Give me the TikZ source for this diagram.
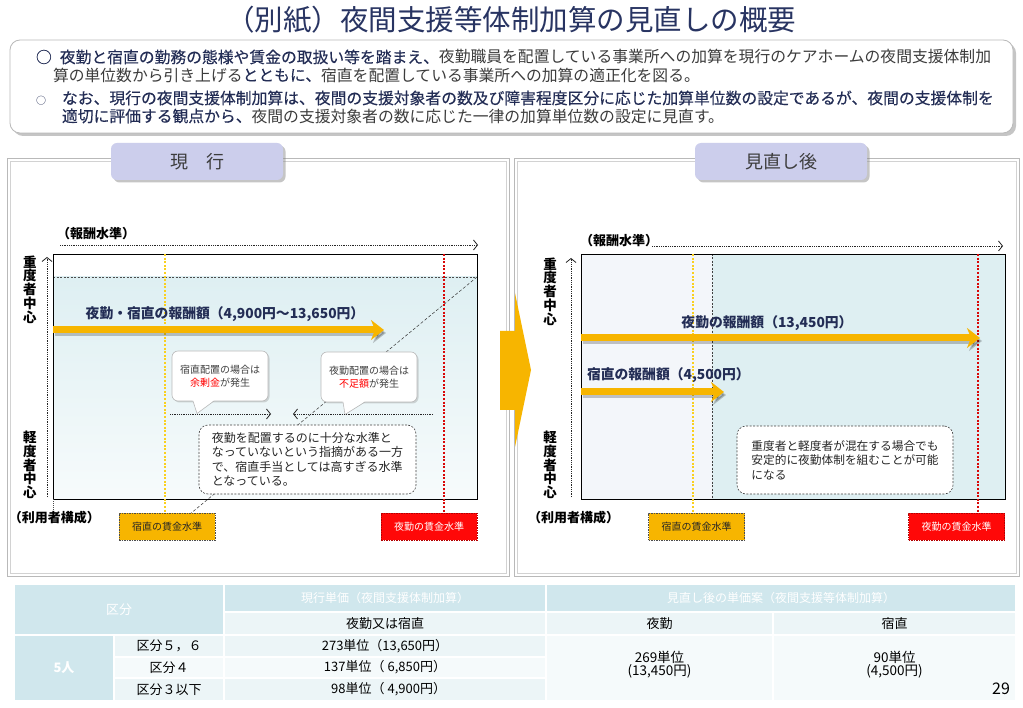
\documentclass[tikz,border=0pt]{standalone}
\usepackage{fontspec}
\setmainfont{Noto Sans CJK JP}
\newfontfamily\jpmed[FakeBold=0.25]{Noto Sans CJK JP}
\usetikzlibrary{arrows.meta,shadows}
\newcommand\jfs[2]{\fontsize{#1}{#2}\selectfont}
\definecolor{navy}{RGB}{35,45,85}
\definecolor{titlec}{RGB}{40,52,98}
\definecolor{txtgray}{RGB}{60,60,60}
\definecolor{gold}{RGB}{247,181,0}
\definecolor{dotyel}{RGB}{250,208,30}
\definecolor{tabfill}{RGB}{204,206,236}
\definecolor{lcyan}{RGB}{222,239,242}
\definecolor{lgray}{RGB}{243,246,250}
\definecolor{tblA}{RGB}{208,231,237}
\definecolor{tblB}{RGB}{236,245,247}
\definecolor{tblC}{RGB}{245,250,251}
\definecolor{wred}{RGB}{255,8,8}
\begin{document}
\begin{tikzpicture}[x=1pt,y=-1pt,
  every node/.style={inner sep=0pt,outer sep=0pt},
  bigarrow/.style={line width=7pt,gold,-{Stealth[length=13pt,width=20pt,inset=4pt]}},
  arrowshadow/.style={line width=7pt,black,opacity=.22,-{Stealth[length=13pt,width=20pt,inset=4pt]}},
  dotarrow/.style={black!85,line width=0.7pt,dash pattern=on 0.9pt off 0.9pt,-{Straight Barb[length=4pt,width=10pt,line width=0.8pt]}},
  yeldot/.style={dotyel,line width=2.6pt,dash pattern=on 2pt off 1.6pt},
  reddot/.style={wred!85!black,line width=2.6pt,dash pattern=on 2pt off 1.6pt},
  axislabel/.style={align=center,font=\jfs{13.5}{13.8}\bfseries,text=black},
  chartlabel/.style={font=\jfs{13.8}{15}\bfseries,text=navy},
  tabbox/.style={fill=tabfill,rounded corners=6pt,minimum width=172pt,minimum height=37pt,font=\jfs{18}{20},text=txtgray,
    drop shadow={shadow xshift=2.5pt,shadow yshift=-2.5pt,opacity=.45}},
  bubble/.style={draw=gray!55,fill=white,rounded corners=6pt,line width=0.6pt,minimum width=96pt,minimum height=50pt,
    align=center,font=\jfs{10}{13},text=black!75,drop shadow={shadow xshift=1.5pt,shadow yshift=-1.5pt,opacity=.3}},
  dashbox/.style={draw=black!75,dash pattern=on 2pt off 1.5pt,fill=white,rounded corners=9pt,line width=0.6pt},
  wagey/.style={fill=gold,draw=black!70,dash pattern=on 1.5pt off 1pt,line width=0.6pt,minimum width=96pt,minimum height=27pt,font=\jfs{10}{12},text=black!85},
  wager/.style={fill=wred,draw=red!70!black,dash pattern=on 1.5pt off 1pt,line width=0.6pt,minimum width=96pt,minimum height=27pt,font=\jfs{10}{12},text=white},
  cellA/.style={fill=tblA,text=white,font=\jfs{12}{14}},
  cellB/.style={fill=tblB,text=black,font=\jfs{13}{14}},
  cellC/.style={fill=tblC,text=black,font=\jfs{13}{14}},
  panelout/.style={draw=gray!55,line width=0.8pt},
  panelin/.style={draw=gray!35,line width=0.8pt}
]
\useasboundingbox (0,0) rectangle (1023,708);
\fill[white] (0,0) rectangle (1023,708);

% ---------- title ----------
\node[font=\jfs{28.5}{30},text=titlec] (title) at (511,20) {（別紙）夜間支援等体制加算の見直しの概要};

% ---------- summary box ----------
\path[fill=white,draw=gray!55,line width=0.8pt,rounded corners=10pt,
  drop shadow={shadow xshift=3pt,shadow yshift=-3pt,opacity=.45}] (10,40) rectangle (1013,133);
\node[anchor=west,font=\jfs{15.8}{17}] (l1) at (36,57)
  {{\jpmed\color{navy}○\hspace{8pt}夜勤と宿直の勤務の態様や賃金の取扱い等を踏まえ、}{\color{txtgray}夜勤職員を配置している事業所への加算を現行のケアホームの夜間支援体制加}};
\node[anchor=west,font=\jfs{15.8}{17}] (l2) at (53,75)
  {{\color{txtgray}算の単位数から引き上げる}{\jpmed\color{navy}とともに、}{\color{txtgray}宿直を配置している事業所への加算の適正化を図る。}};
\node[anchor=west,font=\jfs{15.8}{17}] (l3) at (36,98)
  {{\jfs{10}{12}\color{navy}○}\hspace{16pt}{\jpmed\color{navy}なお、現行の夜間支援体制加算は、夜間の支援対象者の数及び障害程度区分に応じた加算単位数の設定であるが、夜間の支援体制を}};
\node[anchor=west,font=\jfs{15.8}{17}] (l4) at (62,116)
  {{\jpmed\color{navy}適切に評価する観点から、}{\color{txtgray}夜間の支援対象者の数に応じた一律の加算単位数の設定に見直す。}};

% ---------- panels ----------
\draw[panelout] (7,158) rectangle (509,576);
\draw[panelin] (10,161) rectangle (506,573);
\draw[panelout] (514,158) rectangle (1019,576);
\draw[panelin] (517,161) rectangle (1016,573);
\node[tabbox] (tab1) at (197,161.5) {現\hspace{1em}行};
\node[tabbox] (tab2) at (781,161.5) {見直し後};

% big chevron arrow between panels
\fill[gold] (500,331) -- (515,331) -- (515,293) -- (531,370) -- (515,447) -- (515,410) -- (500,410) -- cycle;

% ================= LEFT CHART =================
\shade[top color=lcyan,bottom color=lcyan!25] (53,277) rectangle (477,499);
\draw[black!70,line width=0.5pt,dash pattern=on 2pt off 1.5pt] (53,277) -- (477,277);
\coordinate (diagA) at (477,277);
\coordinate (diagB) at (190,514);
\draw[black!80,line width=0.5pt,dash pattern=on 3pt off 2pt] (diagA) -- (diagB);
\draw[black,line width=0.8pt] (53,254) rectangle (477,499);
\draw[black!70,line width=0.6pt,dash pattern=on 1pt off 1pt] (53,499) -- (53,514);

% axes
\node[font=\jfs{13}{14}\bfseries,text=black] (xlab1) at (96,234) {（報酬水準）};
\coordinate (xa1s) at (60,245); \coordinate (xa1e) at (478,245);
\draw[dotarrow] (xa1s) -- (xa1e);
\coordinate (ya1s) at (47,497); \coordinate (ya1e) at (47,257);
\draw[dotarrow] (ya1s) -- (ya1e);
\node[axislabel] (yh1) at (30,289.5) {重\\度\\者\\中\\心};
\node[axislabel] (yl1) at (30,465) {軽\\度\\者\\中\\心};
\node[anchor=west,font=\jfs{13}{14}\bfseries,text=black] (ulab1) at (9,518) {（利用者構成）};

% wage level lines and boxes
\node[wagey] (wy1) at (167,526.5) {宿直の賃金水準};
\node[wager] (wr1) at (429,526.5) {夜勤の賃金水準};
\draw[yeldot] (165,254) -- (wy1.north -| 165,0);
\draw[reddot] (444,254) -- (wr1.north -| 444,0);

% big arrow
\node[chartlabel] (t1) at (225,314) {夜勤・宿直の報酬額（4,900円～13,650円）};
\coordinate (a1s) at (53,330); \coordinate (a1e) at (384,330);
\draw[arrowshadow] ([shift={(2,3)}]a1s) -- ([shift={(2,3)}]a1e);
\draw[bigarrow] (a1s) -- (a1e);

% bubbles
\node[bubble] (bub1) at (220,376) {宿直配置の場合は\\{\color{red}余剰金}が発生};
\fill[white] (192.5,400) -- (197,413.5) -- (214.5,400) -- cycle;
\draw[gray!55,line width=0.6pt] (193,401) -- (197,413.5) -- (214,401);
\node[bubble] (bub2) at (369,377) {夜勤配置の場合は\\{\color{red}不足額}が発生};
\fill[white] (342.5,401) -- (345,414.5) -- (365.5,401) -- cycle;
\draw[gray!55,line width=0.6pt] (343,402) -- (345,414.5) -- (365,402);

% dotted arrows
\coordinate (d1s) at (170,414); \coordinate (d1e) at (271,414);
\draw[dotarrow] (d1s) -- (d1e);
\coordinate (d2s) at (433,414); \coordinate (d2e) at (293,414);
\draw[dotarrow] (d2s) -- (d2e);

% comment box
\node[dashbox,minimum width=217pt,minimum height=69pt] (cb1) at (307.5,459.5) {};
\node[align=left,font=\jfs{12}{14.5},text=black!85] (cb1t) at (307.5,459.5)
  {夜勤を配置するのに十分な水準と\\なっていないという指摘がある一方\\で、宿直手当としては高すぎる水準\\となっている。};

% ================= RIGHT CHART =================
\fill[lgray] (581,254) rectangle (712,499);
\fill[lcyan] (712,254) rectangle (1005,499);
\draw[black!75,line width=0.5pt,dash pattern=on 2pt off 1.5pt] (712,254) -- (712,499);
\draw[black,line width=0.8pt] (581,254) rectangle (1005,499);

\node[font=\jfs{13}{14}\bfseries,text=black] (xlab2) at (619,241) {（報酬水準）};
\coordinate (xa2s) at (652,246); \coordinate (xa2e) at (1003,246);
\draw[dotarrow] (xa2s) -- (xa2e);
\coordinate (ya2s) at (571,497); \coordinate (ya2e) at (571,258);
\draw[dotarrow] (ya2s) -- (ya2e);
\node[axislabel] (yh2) at (550,291.5) {重\\度\\者\\中\\心};
\node[axislabel] (yl2) at (550,465) {軽\\度\\者\\中\\心};
\node[anchor=west,font=\jfs{13}{14}\bfseries,text=black] (ulab2) at (528,518) {（利用者構成）};

\node[wagey] (wy2) at (696.5,526.5) {宿直の賃金水準};
\node[wager] (wr2) at (956.5,526.5) {夜勤の賃金水準};
\draw[yeldot] (693,254) -- (wy2.north -| 693,0);
\draw[reddot] (978,254) -- (wr2.north -| 978,0);

\node[chartlabel] (t2) at (767,323) {夜勤の報酬額（13,450円）};
\coordinate (a2s) at (581,338); \coordinate (a2e) at (980,338);
\draw[arrowshadow] ([shift={(2,3)}]a2s) -- ([shift={(2,3)}]a2e);
\draw[bigarrow] (a2s) -- (a2e);

\node[chartlabel,anchor=west] (t3) at (587,375) {宿直の報酬額（4,500円）};
\coordinate (a3s) at (581,392); \coordinate (a3e) at (724,392);
\draw[arrowshadow] ([shift={(2,3)}]a3s) -- ([shift={(2,3)}]a3e);
\draw[bigarrow] (a3s) -- (a3e);

\node[dashbox,minimum width=216pt,minimum height=68pt] (cb2) at (845,460) {};
\node[align=left,font=\jfs{11.7}{14.5},text=black!85] (cb2t) at (845,460)
  {重度者と軽度者が混在する場合でも\\安定的に夜勤体制を組むことが可能\\になる};

% ================= TABLE =================
\node[cellA,minimum width=208pt,minimum height=49pt,font=\jfs{13}{14}] (h0) at (119,609.5) {区分};
\node[cellA,minimum width=320pt,minimum height=26pt] (h1) at (385,598) {現行単価（夜間支援体制加算）};
\node[cellA,minimum width=468pt,minimum height=26pt] (h2) at (781,598) {見直し後の単価案（夜間支援等体制加算）};
\node[cellB,minimum width=320pt,minimum height=21pt] (s1) at (385,623.5) {夜勤又は宿直};
\node[cellB,minimum width=225pt,minimum height=21pt] (s2) at (659.5,623.5) {夜勤};
\node[cellB,minimum width=241pt,minimum height=21pt] (s3) at (894.5,623.5) {宿直};
\node[cellA,minimum width=98pt,minimum height=64pt,font=\jfs{13}{14}\bfseries] (p5) at (64,668) {5人};
\node[cellB,minimum width=108pt,minimum height=20pt] (r1a) at (169,646) {区分５，６};
\node[cellB,minimum width=320pt,minimum height=20pt] (r1b) at (385,646) {273単位（13,650円）};
\node[cellC,minimum width=108pt,minimum height=19pt] (r2a) at (169,667.5) {区分４};
\node[cellC,minimum width=320pt,minimum height=19pt] (r2b) at (385,667.5) {137単位（ 6,850円）};
\node[cellB,minimum width=108pt,minimum height=21pt] (r3a) at (169,689.5) {区分３以下};
\node[cellB,minimum width=320pt,minimum height=21pt] (r3b) at (385,689.5) {\phantom{0}98単位（ 4,900円）};
\node[cellC,minimum width=225pt,minimum height=64pt] (m1) at (659.5,668) {};
\node[cellC,minimum width=241pt,minimum height=64pt] (m2) at (894.5,668) {};
\node[align=center,font=\jfs{13.5}{12}] (m1t) at (659.5,665) {269単位\\(13,450円)};
\node[align=center,font=\jfs{13.5}{12}] (m2t) at (894.5,665) {90単位\\(4,500円)};

\node[font=\jfs{16}{18}] (pg) at (1001,689) {29};
\end{tikzpicture}
\end{document}
